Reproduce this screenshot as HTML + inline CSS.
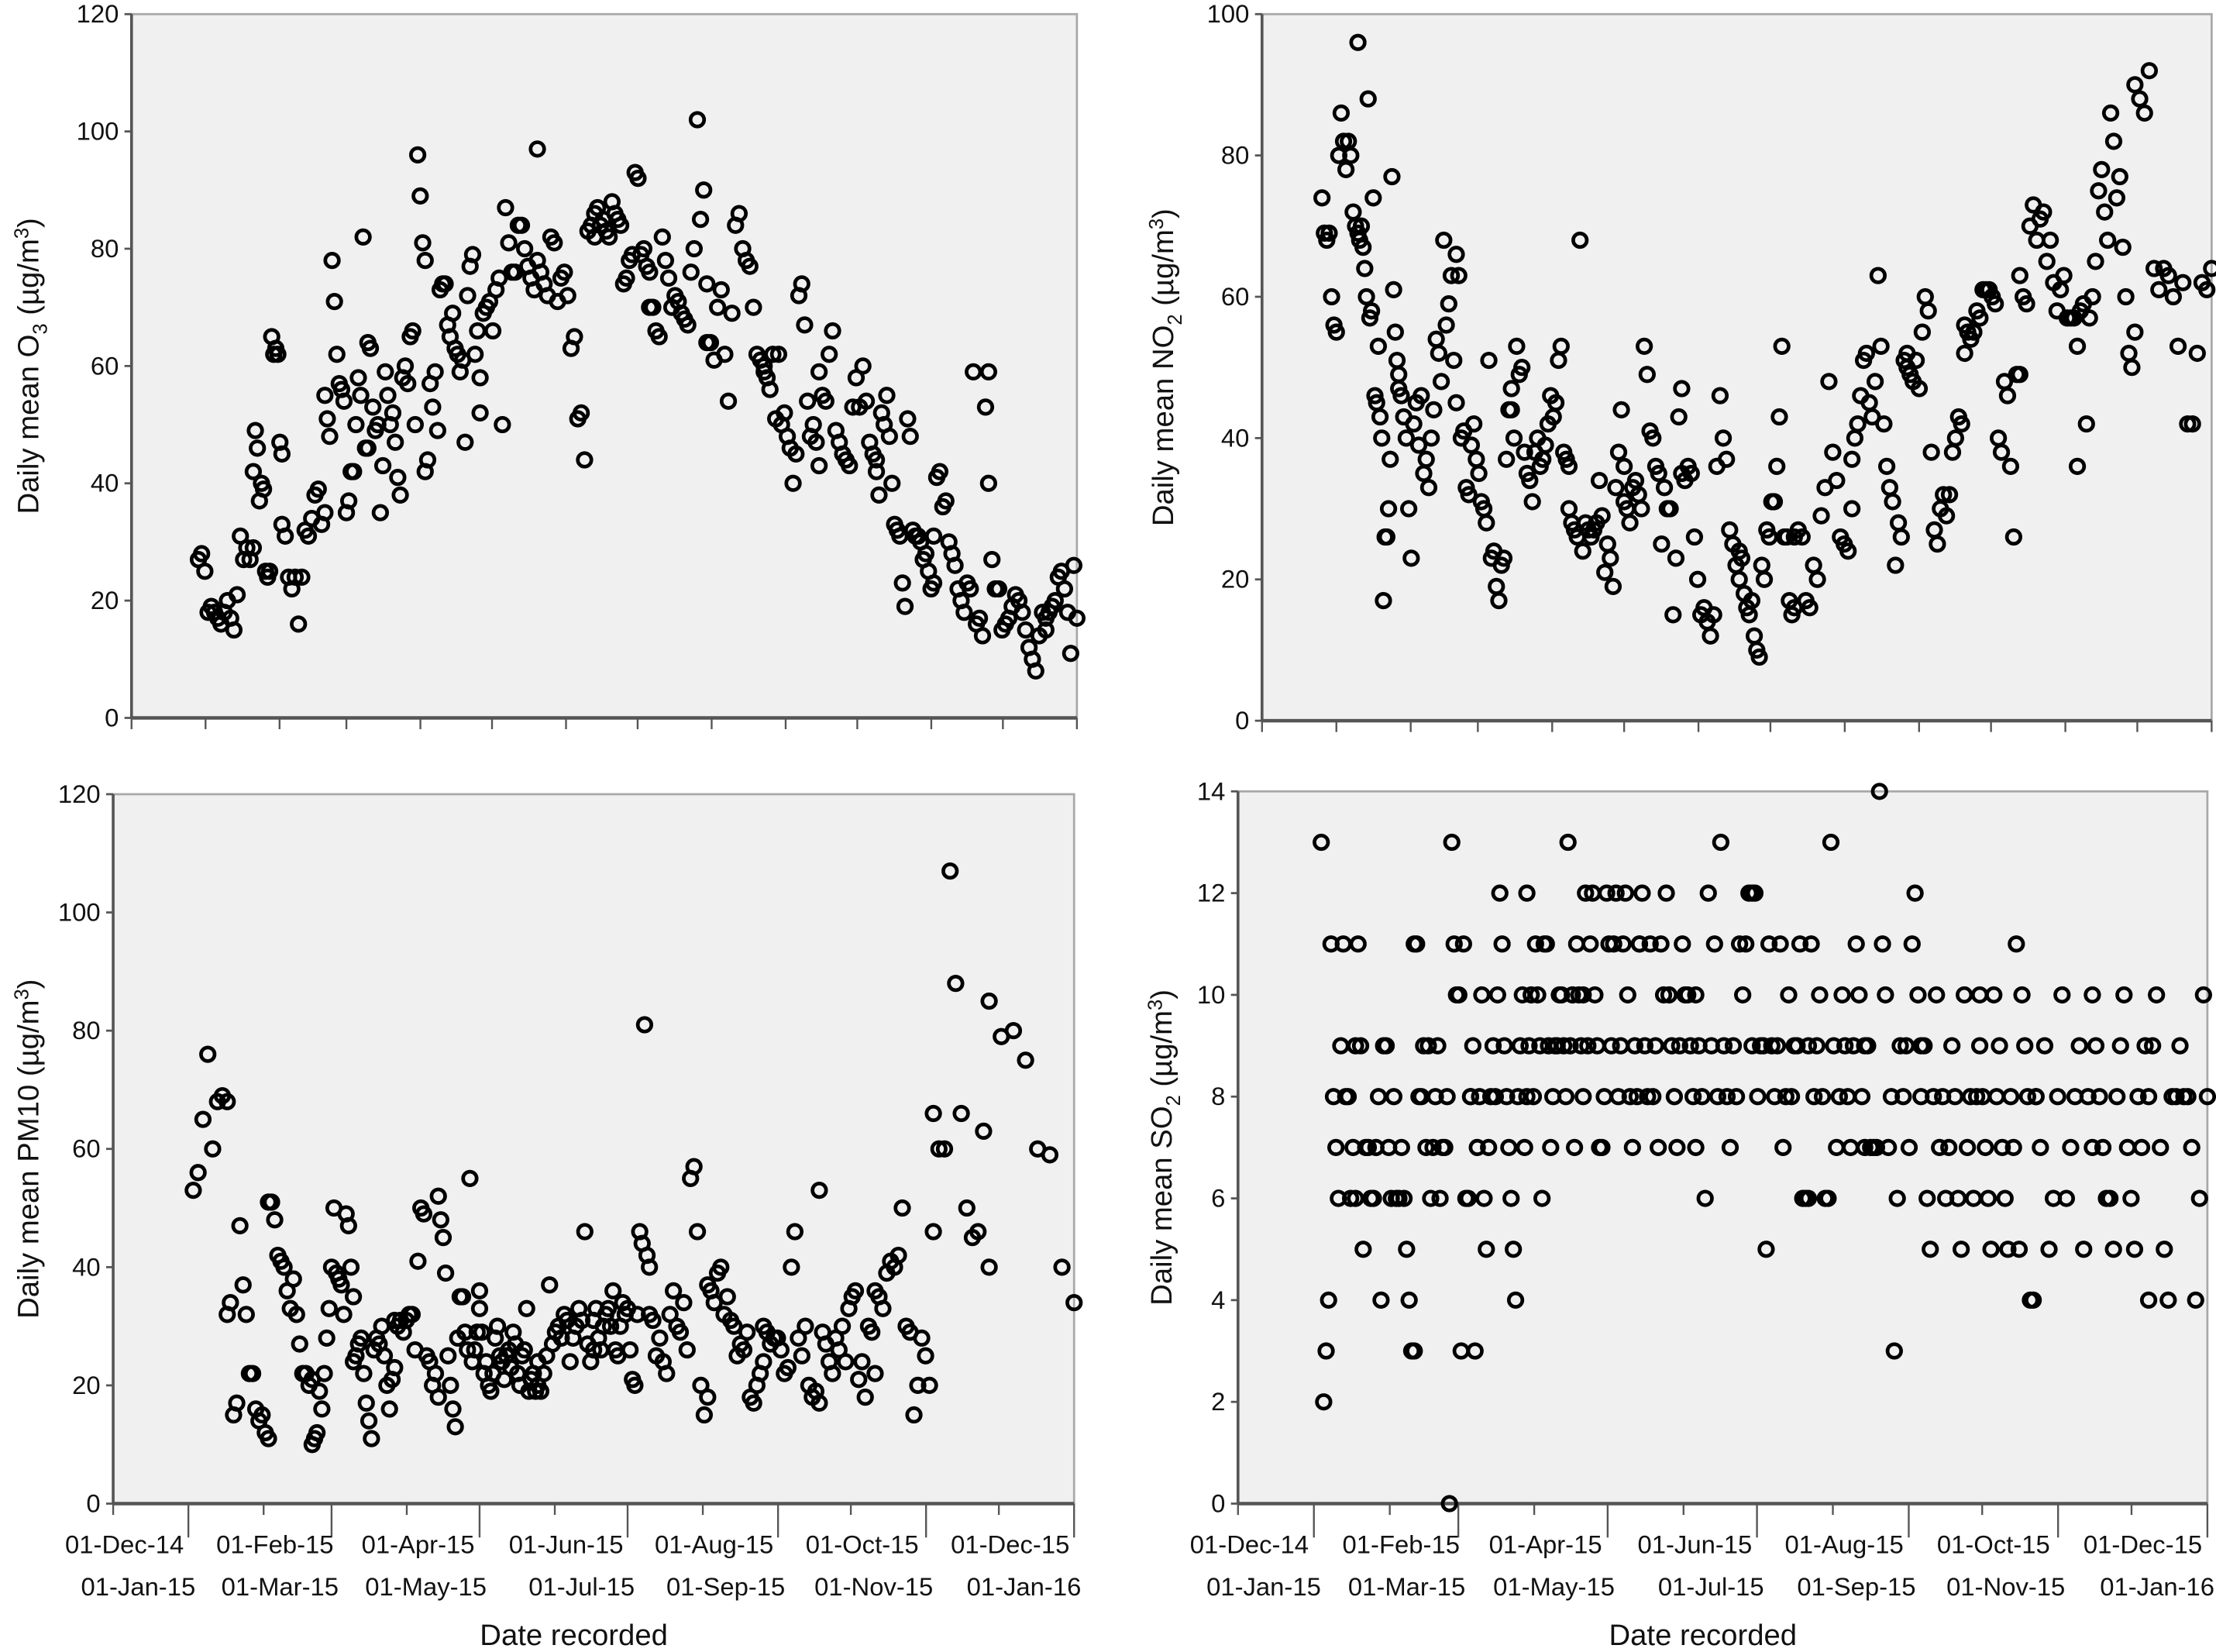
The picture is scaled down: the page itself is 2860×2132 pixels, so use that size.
<!DOCTYPE html>
<html><head><meta charset="utf-8"><style>
html,body{margin:0;padding:0;background:#fff;}
svg{display:block;}
text{font-family:"Liberation Sans Narrow","Liberation Sans",sans-serif;fill:#111;}
.ttl{font-family:"Liberation Sans",sans-serif;font-size:21px;}
.tk{font-size:18px;}
</style></head><body>
<svg id="chart" width="2860" height="2132" viewBox="0 0 1568 1169" xmlns="http://www.w3.org/2000/svg"></svg>
<script>
// ===== data (days since 01-Dec-14; groups: [startDay, endDay, values]) =====
const monthTickDays = [0,31,62,90,121,151,182,212,243,274,304,335,365,396];
const topRowLabels = ["01-Dec-14","01-Feb-15","01-Apr-15","01-Jun-15","01-Aug-15","01-Oct-15","01-Dec-15"];
const bottomRowLabels = ["01-Jan-15","01-Mar-15","01-May-15","01-Jul-15","01-Sep-15","01-Nov-15","01-Jan-16"];
const o3Ticks = [0,20,40,60,80,100,120];
const no2Ticks = [0,20,40,60,80,100];
const pm10Ticks = [0,20,40,60,80,100,120];
const so2Ticks = [0,2,4,6,8,10,12,14];

const o3Groups = [
[28,51,[27,28,25,18,19,18,17,16,18,20,17,15,21,31,27,29,27,29]],
[51,63,[42,49,46,37,40,39,25,24,25,65,62,63,62,47,45]],
[63,81,[33,31,24,22,24,16,24,32,31,34,38,39,33,35]],
[81,99,[55,51,48,78,71,62,57,56,54,35,37,42,42,50,58,55,82,46,46]],
[99,123,[64,63,53,49,50,35,43,59,55,50,52,47,41,38,58,60,57,65,66,50,96,89,81,78]],
[123,146,[42,44,57,53,59,49,73,74,74,67,65,69,63,62,59,61,47,72,77,79,62,66,58]],
[146,170,[52,69,70,71,66,73,75,50,87,81,76,76,84,84,80,77,75,73,97]],
[170,194,[78,76,74,72,82,81,71,75,76,72,63,65,51,52,44,83,84,82]],
[194,217,[86,87,84,85,83,82,88,86,85,84,74,75,78,79,93,92,79,80,77,76]],
[217,241,[70,70,66,65,82,78,75,70,72,71,69,68,67,76,80,102,85,90,74]],
[241,265,[64,64,61,70,73,62,54,69,84,86,80,78,77,70,62,61,59]],
[265,288,[60,58,56,62,51,62,50,52,48,46,40,45,72,74,67,54,48,50,47,43]],
[288,312,[59,55,54,62,66,49,47,45,44,43,53,58,53,60,54,47,45,44]],
[312,336,[42,38,52,50,55,48,40,33,32,31,23,19,51,48,32,31,31,30,27,28,25,22,23]],
[336,359,[31,41,42,36,37,30,28,26,22,20,18,23,22,59,16,17,14,53,59]],
[359,383,[40,27,22,22,15,16,17,19,21,20,18,15,12,10,8,14,18,15]],
[383,396,[17,18,19,20,24,25,22,18,11,26,17]]
];
const no2Groups = [
[25,40,[74,69,68,69,60,56,55,80,86,82,78,82,80,72,70,69]],
[40,57,[96,68,70,67,64,60,88,57,58,74,46,45,53,43,40,17,26,26,30,37,77,61,55,51,49]],
[57,81,[47,46,43,40,30,23,42,45,39,46,35,37,33,40,44,54,52,48,68,56,59,63,51,45]],
[81,104,[66,63,40,41,33,32,39,42,37,35,31,30,28,51,23,24,19,17,22,23,37,44,47]],
[104,128,[44,40,53,49,50,38,35,34,31,38,40,36,37,39,42,46,43,45,51,53,38,37,36]],
[128,151,[30,28,27,26,68,24,28,27,26,27,28,34,29,21,25,23,19,33,38,44,36]],
[151,175,[31,30,28,33,34,32,30,53,49,41,40,36,35,25,33,30,30,15,23,43,47]],
[175,199,[35,34,36,35,26,20,15,16,14,12,15,36,46,40,37,27,25,22,20]],
[199,222,[24,23,18,16,15,17,12,10,9,22,20,27,26,31,31,36,43,53,26,26,17,15,16]],
[222,246,[26,27,26,17,16,22,20,29,33,48,38,34,26,25,24,30]],
[246,269,[37,40,42,46,51,52,45,43,48,63,53,42,36,33,31,22,28,26,51,50]],
[269,293,[52,49,48,51,47,55,60,58,38,27,25,30,32,29,32,38,40,43,42,52]],
[293,316,[56,55,54,55,58,57,61,61,61,60,59,40,38,48,46,36,26,49,49]],
[316,340,[63,60,59,70,73,68,71,72,65,68,62,58,61,63,57,57,57,36]],
[340,364,[53,58,59,42,57,60,65,75,78,72,68,86,82,74,77,67,60,52,50,55]],
[364,396,[90,88,86,92,64,61,64,63,60,53,62,42,42,52,62,61,64]]
];
const pm10Groups = [
[33,47,[53,56,65,76,60,68,69,68]],
[47,64,[32,34,15,17,47,37,32,22,22,16,14,15,12,11]],
[64,82,[51,51,48,42,41,40,36,33,38,32,27,22,22,20,21]],
[82,99,[10,11,12,19,16,22,28,33,40,50,39,38,37,32,49,47,40,35]],
[99,116,[24,25,27,28,22,17,14,11,26,28,27,30,25,20,16,21,23]],
[116,134,[31,30,31,29,31,32,32,26,41,50,49,25,24,20,22,18]],
[134,151,[52,48,45,39,25,20,16,13,28,35,35,29,26,55,24,26,29,36]],
[151,175,[33,29,22,24,20,19,22,28,30,25,24,21,25,26,23,29,27,22,20,25,26,33,19,21,22,19,24]],
[175,198,[20,19,22,25,37,27,29,30,28,32,31,24,28,30,33,31,46,27,24,26]],
[198,221,[31,33,28,26,30,32,33,30,36,26,25,30,34,32,33,26,21,20,32,46,44,81,42,40]],
[221,245,[32,31,25,28,24,22,32,36,30,29,34,26,55,57,46,20,15,18]],
[245,268,[37,36,34,39,40,32,35,31,30,25,27,26,29,18,17,20,22,24]],
[268,291,[30,29,27,28,28,26,22,23,40,46,28,25,30,20,18,19,17]],
[291,314,[53,29,27,24,22,28,26,30,24,33,35,36,21,24,18,30,29,22]],
[314,338,[36,35,33,39,41,40,42,50,30,29,15,20,28,25,20,46]],
[338,361,[66,60,60,107,88,66,50,45,46,63,40]],
[361,396,[85,79,80,75,60,59,40,34]]
];
const so2Groups = [
[34,48,[13,2,3,4,11,8,7,6,9,11,8,8,6,7,6]],
[48,72,[9,11,9,5,7,7,6,6,7,8,4,9,9,7,6,8,6,6,7,6,5,4,3,3]],
[72,95,[11,11,8,8,9,7,9,6,7,8,9,6,7,7,8,0,13,11,10,10,3,11,6,6,8]],
[95,118,[8,9,3,7,8,10,6,5,7,8,9,8,10,12,11,9,8,7,6,5,4,8,9,10,7,8]],
[118,141,[12,9,10,8,11,10,9,6,11,11,9,7,8,9,9,10,10,9,8,13,9,10,7,11,10,9,8]],
[141,164,[10,12,9,11,12,10,9,7,7,8,12,11,9,11,12,8,9,11,12,10,8,7,9,8,11]],
[164,187,[11,12,9,8,11,8,9,7,11,10,12,10,9,8,7,9,11,10,10,9,8,10]],
[187,210,[7,9,8,6,12,9,11,8,13,9,8,7,9,8,11,10,11,12,9]],
[210,233,[12,12,8,9,9,5,11,9,8,9,11,7,8,10,8,9,9,11,6,6,6]],
[233,256,[9,11,8,9,10,8,6,6,13,9,7,8,10,9,8,7,9,11,10,8,7]],
[256,279,[9,9,7,7,7,14,11,10,7,8,3,6,9,8,9,7,11,12,10,9]],
[279,303,[8,9,6,5,8,10,7,8,6,7,9,8,6,5,10,7,8,6,8,9]],
[303,326,[10,8,7,6,5,10,8,9,7,6,5,8,7,11,5,10,9,8,4,4,8]],
[326,349,[8,7,9,5,6,8,10,6,7,8,9,5,8,7]],
[349,372,[10,9,8,7,6,6,5,8,9,10,7,6,5,8,7,9,4]],
[372,396,[8,9,10,7,5,4,8,8,9,8,8,7,4,6,10,8]]
];

const NS = "http://www.w3.org/2000/svg";
const svg = document.getElementById("chart");
function mk(tag, attrs, parent){
  const e = document.createElementNS(NS, tag);
  for (const k in attrs) e.setAttribute(k, attrs[k]);
  (parent||svg).appendChild(e);
  return e;
}

function drawPanel(p){
  const g = mk("g", {});
  
  
  const xs = d => p.l + (d / 396) * (p.r - p.l);
  const ys = v => p.b - (v / p.ymax) * (p.b - p.t);
  const bg = mk("rect", {x:p.l, y:p.t, width:p.r-p.l, height:p.b-p.t, fill:"#f0f0f0", stroke:"#a8a8a8", "stroke-width":1.5}, g);
  
  
  const ya = mk("line", {x1:p.l, y1:p.t, x2:p.l, y2:p.b, stroke:"#555", "stroke-width":2}, g);
  
  
  p.yticks.forEach(v => {
    const y = ys(v);
    mk("line", {x1:p.l-5, y1:y, x2:p.l, y2:y, stroke:"#555", "stroke-width":1.5}, g);
    const t = mk("text", {x:p.l-9, y:y+6, "text-anchor":"end", class:"tk"}, g);
    t.textContent = v;
    
    
  });
  const xa = mk("line", {x1:p.l, y1:p.b, x2:p.r, y2:p.b, stroke:"#555", "stroke-width":2.5}, g);
  
  
  monthTickDays.forEach((d, i) => {
    const x = xs(d);
    const long = p.labels && (i % 2 === 1);
    mk("line", {x1:x, y1:p.b, x2:x, y2:p.b + (long ? 24 : 8), stroke:"#555", "stroke-width":1.3}, g);
  });
  if (p.labels){
    topRowLabels.forEach((s, i) => {
      const t = mk("text", {x:xs(monthTickDays[i*2]) + 8, y:p.b + 35, "text-anchor":"middle", class:"tk"}, g);
      t.textContent = s;
      
      
    });
    bottomRowLabels.forEach((s, i) => {
      const t = mk("text", {x:xs(monthTickDays[i*2+1]) + 5, y:p.b + 65, "text-anchor":"end", class:"tk"}, g);
      t.textContent = s;
      
      
    });
    const xt = mk("text", {x:(p.l+p.r)/2 - 14, y:p.b + 100, "text-anchor":"middle", class:"ttl"}, g);
    xt.textContent = "Date recorded";
    
    
  }
  const cy = (p.t + p.b) / 2;
  const yt = mk("text", {x:0, y:0, "text-anchor":"middle", class:"ttl", transform:`translate(${p.ytx},${cy}) rotate(-90)`}, g);
  yt.innerHTML = p.ytitle;
  
  
  p.groups.forEach(gr => {
    const [d0, d1, vals] = gr;
    const n = vals.length;
    vals.forEach((v, i) => {
      const d = n > 1 ? d0 + (d1 - d0) * i / (n - 1) : d0;
      const c = mk("circle", {cx:xs(d), cy:ys(v), r:4.8, fill:"none", stroke:"#000", "stroke-width":2.6}, g);
      
      
    });
  });
}

drawPanel({name:"o3", l:93, r:762, t:10, b:508, ymax:120, yticks:o3Ticks, groups:o3Groups, labels:false, ytx:27,
  ytitle:'Daily mean O<tspan font-size="14" dy="6">3</tspan><tspan dy="-6"> (µg/m</tspan><tspan font-size="14" dy="-7">3</tspan><tspan dy="7">)</tspan>'});
drawPanel({name:"no2", l:893, r:1565, t:10, b:510, ymax:100, yticks:no2Ticks, groups:no2Groups, labels:false, ytx:830,
  ytitle:'Daily mean NO<tspan font-size="14" dy="6">2</tspan><tspan dy="-6"> (µg/m</tspan><tspan font-size="14" dy="-7">3</tspan><tspan dy="7">)</tspan>'});
drawPanel({name:"pm10", l:80, r:760, t:562, b:1064, ymax:120, yticks:pm10Ticks, groups:pm10Groups, labels:true, ytx:27,
  ytitle:'Daily mean PM10 (µg/m<tspan font-size="14" dy="-7">3</tspan><tspan dy="7">)</tspan>'});
drawPanel({name:"so2", l:876, r:1562, t:560, b:1064, ymax:14, yticks:so2Ticks, groups:so2Groups, labels:true, ytx:829,
  ytitle:'Daily mean SO<tspan font-size="14" dy="6">2</tspan><tspan dy="-6"> (µg/m</tspan><tspan font-size="14" dy="-7">3</tspan><tspan dy="7">)</tspan>'});
</script>
</body></html>
